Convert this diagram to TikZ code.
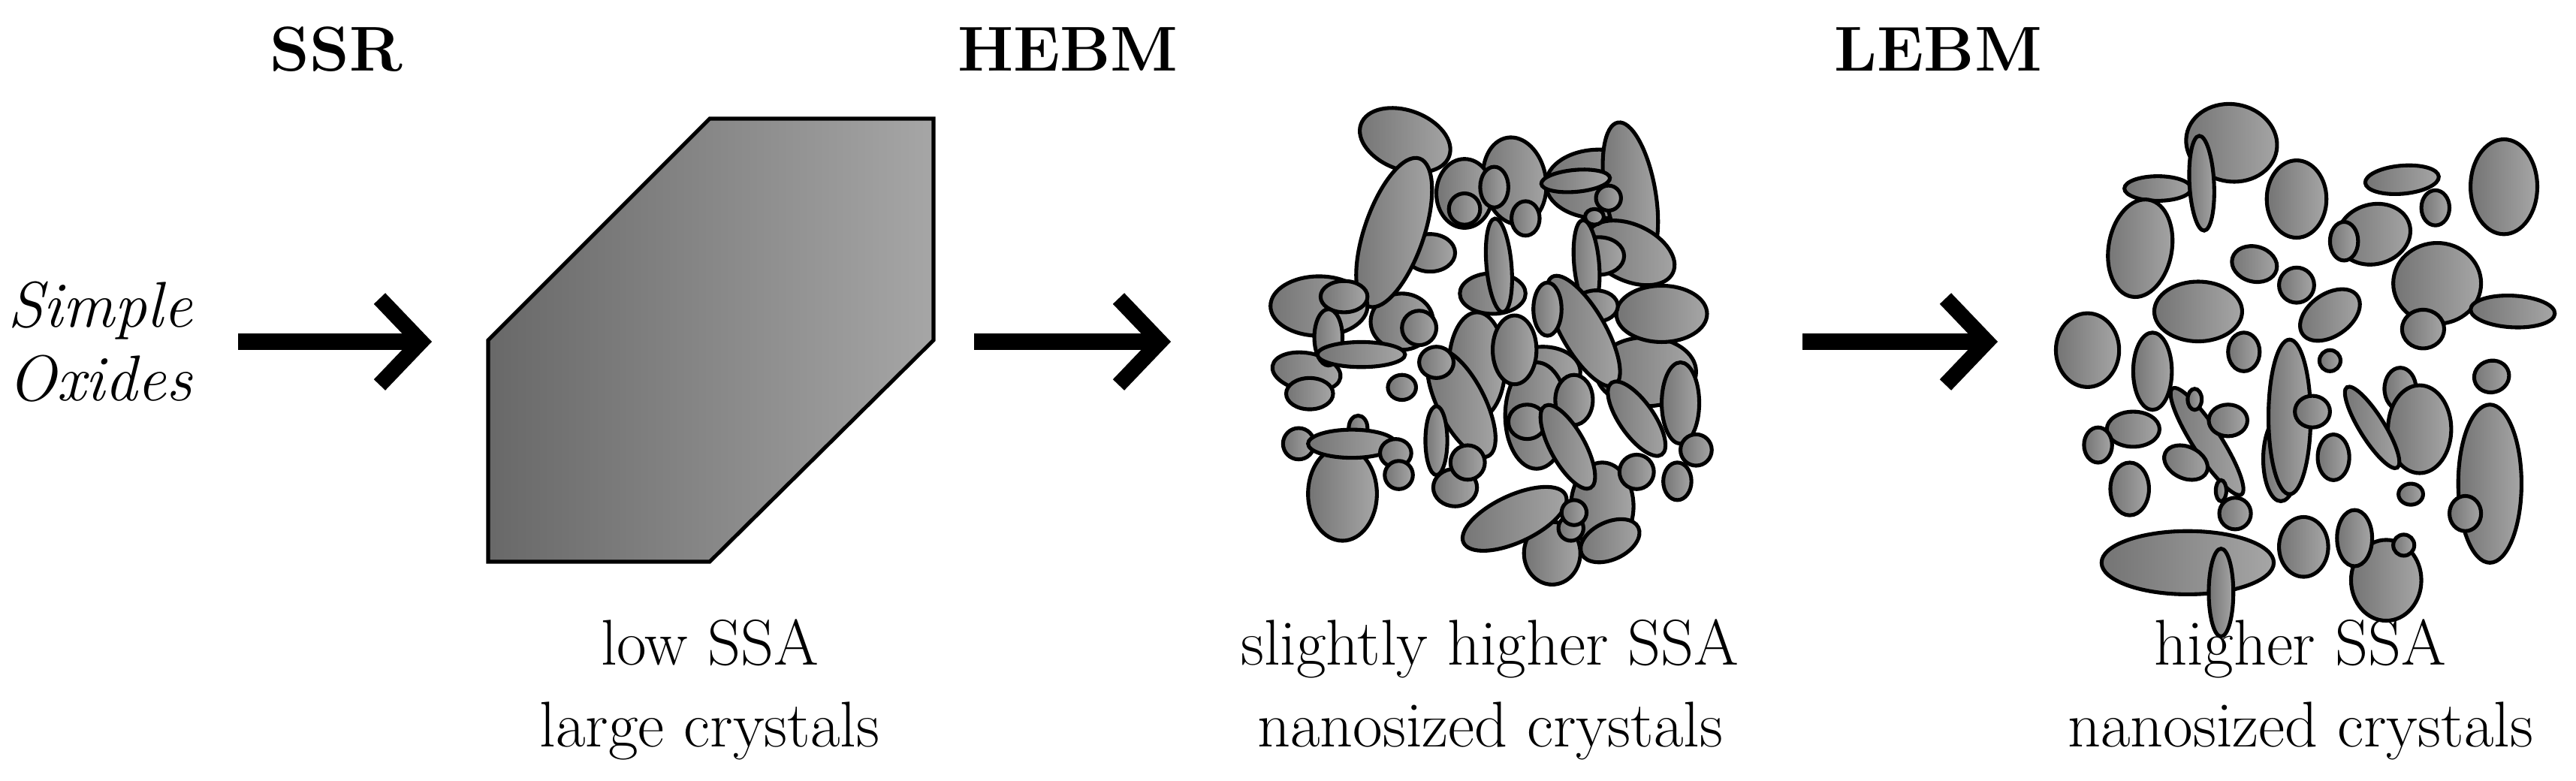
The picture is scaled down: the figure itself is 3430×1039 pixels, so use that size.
\documentclass[tikz,border=0pt]{standalone}
\usetikzlibrary{arrows.meta}
\definecolor{dk}{HTML}{747474}\definecolor{lt}{HTML}{A6A6A6}
\tikzset{
 blobsty/.style={draw=black,line width=2.9pt,left color=dk,right color=lt},
 lbl/.style={font=\fontsize{49}{62}\selectfont,align=center},
 ttl/.style={font=\fontsize{48}{60}\selectfont\bfseries},
 bigarrow/.style={line width=12pt,-{Straight Barb[length=1.1cm,width=2.3cm]}}
}
\newcommand\blob[5]{\draw[blobsty,rotate around={#5:(#1,#2)}] (#1,#2) ellipse[x radius=#3,y radius=#4];}
\begin{document}
\begin{tikzpicture}[x=0.02cm,y=-0.02cm]
\useasboundingbox (0,0) rectangle (3430,1039);
\node[ttl] (t1) at (448,66) {SSR};
\node[ttl] (t2) at (1422,66) {HEBM};
\node[ttl] (t3) at (2581,66) {LEBM};
\node[font=\fontsize{49}{56}\selectfont\itshape,align=right,anchor=east] (so) at (262,455) {Simple\\Oxides};
% hexagon
\shade[left color=dk!90!black,right color=lt] (650,453) -- (945,158) -- (1243,158) -- (1243,453) -- (945,748) -- (650,748) -- cycle;
\draw[line width=2.9pt] (650,453) -- (945,158) -- (1243,158) -- (1243,453) -- (945,748) -- (650,748) -- cycle;
\node[lbl] (l1) at (945,918) {low SSA\\large crystals};
\node[lbl] (l2) at (1984,918) {slightly higher SSA\\nanosized crystals};
\node[lbl] (l3) at (3063,918) {higher SSA\\nanosized crystals};
\coordinate (a1s) at (317,455); \coordinate (a1e) at (575,455);
\coordinate (a2s) at (1297,455); \coordinate (a2e) at (1559,455);
\coordinate (a3s) at (2400,455); \coordinate (a3e) at (2660,455);
\draw[bigarrow] (a1s) -- (a1e);
\draw[bigarrow] (a2s) -- (a2e);
\draw[bigarrow] (a3s) -- (a3e);
% cluster HEBM
\begin{scope}[shift={(1650,120)},scale=0.4167]
\blob{1150}{300}{170}{110}{0}
\blob{1250}{330}{80}{230}{10}
\blob{880}{290}{100}{140}{10}
\blob{720}{330}{90}{110}{0}
\blob{970}{900}{120}{80}{0}
\blob{1300}{900}{160}{110}{0}
\blob{950}{1040}{100}{170}{0}
\blob{1160}{1330}{100}{140}{0}
\blob{760}{880}{90}{170}{0}
\blob{520}{740}{100}{90}{0}
\blob{530}{160}{150}{95}{-20}
\blob{610}{520}{80}{60}{0}
\blob{495}{455}{250}{95}{71}
\blob{815}{310}{45}{65}{0}
\blob{720}{380}{50}{50}{0}
\blob{915}{410}{45}{55}{0}
\blob{1075}{290}{110}{35}{5}
\blob{1180}{345}{40}{40}{0}
\blob{1250}{520}{150}{90}{-25}
\blob{1150}{530}{80}{60}{0}
\blob{1135}{405}{30}{25}{0}
\blob{1110}{555}{40}{140}{5}
\blob{810}{650}{105}{65}{0}
\blob{830}{560}{40}{150}{5}
\blob{1350}{715}{145}{90}{0}
\blob{1140}{690}{70}{50}{0}
\blob{1100}{770}{200}{70}{-60}
\blob{985}{700}{45}{85}{0}
\blob{255}{690}{155}{95}{0}
\blob{335}{660}{75}{50}{0}
\blob{215}{900}{110}{60}{-10}
\blob{285}{790}{45}{90}{0}
\blob{390}{845}{140}{40}{0}
\blob{225}{970}{75}{50}{0}
\blob{520}{950}{45}{40}{0}
\blob{575}{760}{55}{55}{0}
\blob{880}{830}{70}{110}{0}
\blob{710}{1000}{190}{75}{-63}
\blob{630}{870}{55}{50}{0}
\blob{330}{1290}{110}{150}{0}
\blob{380}{1080}{30}{40}{0}
\blob{190}{1130}{50}{50}{0}
\blob{360}{1130}{140}{45}{0}
\blob{500}{1160}{50}{45}{0}
\blob{510}{1230}{45}{45}{0}
\blob{690}{1270}{70}{60}{0}
\blob{630}{1120}{35}{110}{0}
\blob{730}{1190}{55}{55}{0}
\blob{1070}{990}{60}{80}{0}
\blob{920}{1060}{60}{55}{0}
\blob{1000}{1480}{90}{100}{0}
\blob{880}{1370}{180}{75}{25}
\blob{1050}{1140}{150}{55}{-61}
\blob{1060}{1400}{40}{40}{0}
\blob{1070}{1350}{40}{40}{0}
\blob{1185}{1440}{100}{60}{25}
\blob{1410}{1000}{60}{130}{0}
\blob{1270}{1050}{140}{55}{-55}
\blob{1270}{1220}{55}{55}{0}
\blob{1460}{1150}{50}{50}{0}
\blob{1400}{1250}{45}{60}{0}
\end{scope}
% cluster LEBM
\begin{scope}[shift={(2700,120)},scale=0.4679]
\blob{580}{150}{130}{110}{-10}
\blob{370}{280}{95}{35}{0}
\blob{495}{265}{35}{135}{3}
\blob{320}{450}{140}{90}{80}
\blob{765}{310}{85}{110}{0}
\blob{1065}{255}{105}{40}{5}
\blob{1160}{335}{40}{50}{0}
\blob{985}{410}{105}{85}{15}
\blob{900}{430}{40}{55}{0}
\blob{1355}{275}{95}{135}{0}
\blob{645}{495}{65}{50}{-15}
\blob{765}{555}{50}{50}{0}
\blob{1165}{550}{125}{115}{0}
\blob{1380}{630}{120}{45}{-3}
\blob{860}{640}{95}{60}{35}
\blob{1125}{680}{60}{55}{0}
\blob{485}{630}{125}{85}{0}
\blob{170}{740}{90}{105}{0}
\blob{615}{745}{45}{55}{0}
\blob{510}{1000}{180}{40}{-57}
\blob{355}{800}{55}{110}{0}
\blob{860}{770}{30}{30}{0}
\blob{1320}{815}{50}{45}{15}
\blob{475}{880}{20}{30}{0}
\blob{570}{940}{55}{45}{0}
\blob{300}{965}{75}{50}{0}
\blob{200}{1010}{40}{50}{0}
\blob{450}{1060}{65}{45}{-25}
\blob{290}{1135}{55}{75}{0}
\blob{550}{1140}{15}{30}{0}
\blob{590}{1205}{45}{45}{0}
\blob{720}{1050}{50}{120}{0}
\blob{745}{930}{60}{220}{0}
\blob{810}{915}{50}{45}{0}
\blob{870}{1045}{45}{65}{0}
\blob{1060}{850}{45}{60}{0}
\blob{1115}{965}{90}{125}{0}
\blob{980}{960}{135}{35}{-58}
\blob{1090}{1150}{35}{30}{0}
\blob{1315}{1120}{90}{225}{0}
\blob{1245}{1205}{45}{50}{0}
\blob{455}{1345}{245}{90}{0}
\blob{550}{1430}{35}{125}{0}
\blob{785}{1300}{70}{85}{0}
\blob{1020}{1395}{100}{115}{0}
\blob{930}{1275}{50}{80}{0}
\blob{1070}{1295}{30}{30}{0}
\end{scope}
\end{tikzpicture}
\end{document}
